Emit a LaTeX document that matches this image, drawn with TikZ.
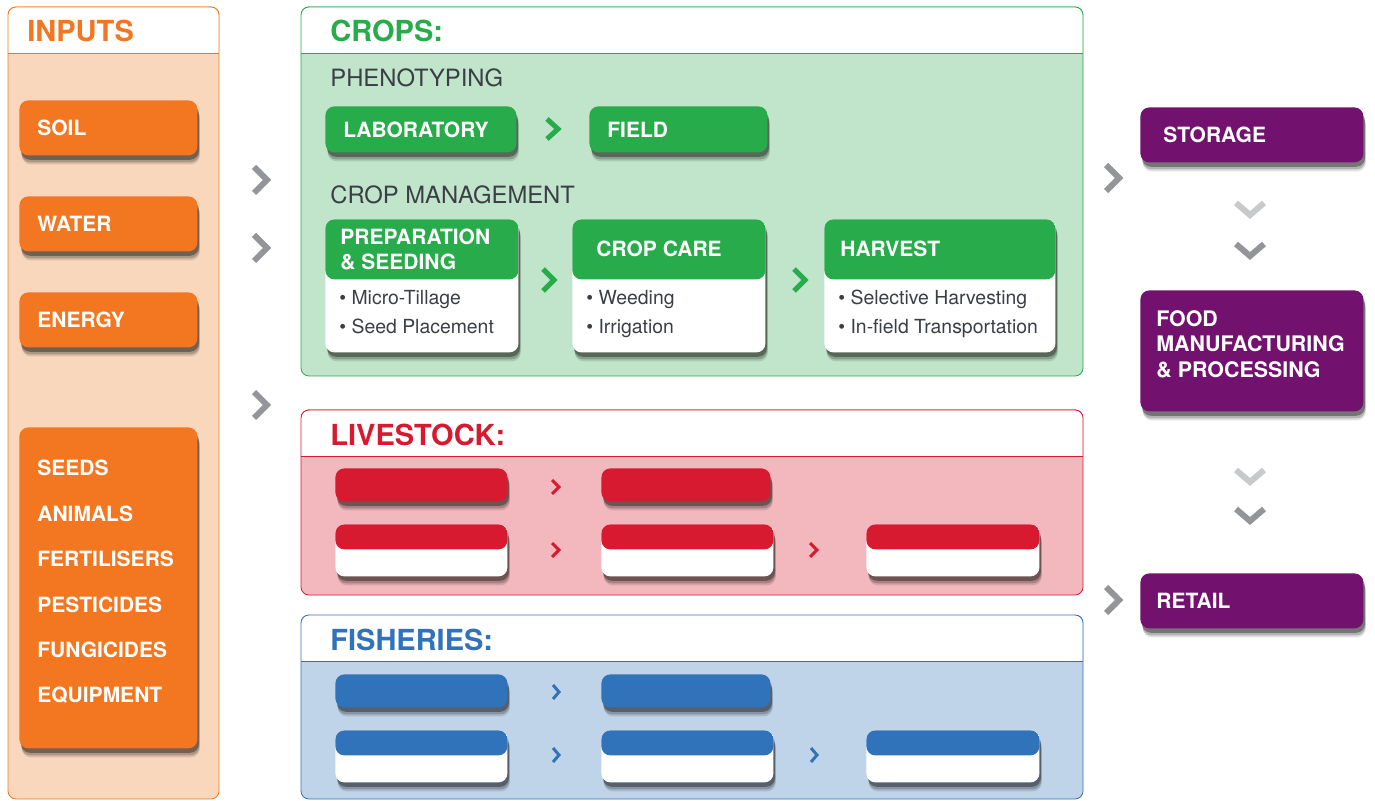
\documentclass[tikz,border=0pt]{standalone}
\usepackage{fontspec}
\setmainfont{TeX Gyre Heros}
\usetikzlibrary{shadows,positioning}

\definecolor{inorange}{HTML}{F37721}
\definecolor{inlight}{HTML}{F9D7BD}
\definecolor{cropgreen}{HTML}{28AB4A}
\definecolor{croplight}{HTML}{C1E5CA}
\definecolor{livered}{HTML}{D71A2F}
\definecolor{livelight}{HTML}{F2B8BE}
\definecolor{fishblue}{HTML}{3073BA}
\definecolor{fishlight}{HTML}{C0D4E9}
\definecolor{chainpurple}{HTML}{72126E}
\definecolor{chevgrey}{HTML}{939598}
\definecolor{chevlight}{HTML}{C8C9CB}
\definecolor{darktext}{HTML}{3A3F46}

% panel: x1 y1 x2 y2 header-line colour fill
\newcommand{\panel}[7]{%
  \draw[#6, fill=#7, rounded corners=4pt] (#1,#2) rectangle (#3,#4);
  \begin{scope}
    \clip (#1,#2) rectangle (#3,#5);
    \draw[#6, fill=white, rounded corners=4pt] (#1,#2) rectangle (#3,#4);
  \end{scope}
  \draw[#6] (#1,#5) -- (#3,#5);}
% chevrons: tip x, tip y, width, half height / half width, height
\newcommand{\chevr}[5]{\draw[#5] ({#1-#3},{#2-#4}) -- (#1,#2) -- ({#1-#3},{#2+#4});}
\newcommand{\chevd}[5]{\draw[#5] ({#1-#3},{#2-#4}) -- (#1,#2) -- ({#1+#3},{#2-#4});}

\tikzset{
  shadowed/.style={drop shadow={shadow xshift=1.2pt,shadow yshift=-4.5pt,opacity=.12,fill=black},
                   drop shadow={shadow xshift=1pt,shadow yshift=-3.5pt,opacity=.2,fill=black},
                   drop shadow={shadow xshift=.8pt,shadow yshift=-2.2pt,opacity=.35,fill=black}},
  sz/.style 2 args={minimum width=#1, minimum height=#2},
  tagbox/.style={rectangle, rounded corners=4.5pt, inner sep=0pt, anchor=north west, shadowed},
  card/.style 2 args={tagbox, fill=white,
    path picture={\fill[#1] (path picture bounding box.north west) rectangle ([yshift=-#2]path picture bounding box.north east);}},
  boxtxt/.style={inner sep=0pt, anchor=west, text=white, align=left,
    font=\bfseries\fontsize{10.5}{12.5}\selectfont},
  paneltitle/.style={inner sep=0pt, anchor=west, font=\bfseries\fontsize{14.5}{16}\selectfont},
  subhead/.style={inner sep=0pt, anchor=west, text=darktext, font=\fontsize{11.9}{14}\selectfont},
  bullets/.style={inner sep=0pt, anchor=north west, text=darktext, align=left,
    font=\fontsize{9.7}{14.5}\selectfont},
  greychev/.style={draw=chevgrey, line width=3pt},
  downdark/.style={draw=chevgrey, line width=3pt},
  downlight/.style={draw=chevlight, line width=3pt},
  greenchev/.style={draw=cropgreen, line width=2.5pt},
  smallchev/.style={draw=#1, line width=1.5pt}
}

\begin{document}
\begin{tikzpicture}[x=0.5pt, y=-0.5pt]
\useasboundingbox (0,0) rectangle (1375,801);

% inputs
\panel{8}{7}{219}{799}{53}{draw=inorange}{inlight}
\node[paneltitle, text=inorange] (intitle) at (27,31) {INPUTS};
\node[tagbox, fill=inorange, sz={89pt}{27.5pt}] (soil) at (19,100) {};
\node[boxtxt, right=9pt of soil.west] (soiltxt) {SOIL};
\node[tagbox, fill=inorange, sz={89pt}{27.5pt}] (water) at (19,196) {};
\node[boxtxt, right=9pt of water.west] (watertxt) {WATER};
\node[tagbox, fill=inorange, sz={89pt}{27.5pt}] (energy) at (19,292) {};
\node[boxtxt, right=9pt of energy.west] (energytxt) {ENERGY};
\node[tagbox, fill=inorange, sz={89pt}{160.5pt}] (other) at (19,427) {};
\node[boxtxt, anchor=north west, font=\bfseries\fontsize{10.5}{22.7}\selectfont] (othertxt)
  at ([xshift=9pt,yshift=-16.5pt]other.north west)
  {SEEDS\\ANIMALS\\FERTILISERS\\PESTICIDES\\FUNGICIDES\\EQUIPMENT};

\chevr{267}{180}{13}{13}{greychev}
\chevr{267}{248}{13}{13}{greychev}
\chevr{267}{405}{13}{13}{greychev}

% crops
\panel{301}{7}{1083}{376}{53}{draw=cropgreen}{croplight}
\node[paneltitle, text=cropgreen] (croptitle) at (330,31) {CROPS:};
\node[subhead] (pheno) at (330,78) {PHENOTYPING};
\node[tagbox, fill=cropgreen, sz={95.5pt}{23pt}] (lab) at (325,106) {};
\node[boxtxt, right=9pt of lab.west] (labtxt) {LABORATORY};
\node[tagbox, fill=cropgreen, sz={89pt}{23pt}] (field) at (589,106) {};
\node[boxtxt, right=9pt of field.west] (fieldtxt) {FIELD};
\chevr{558}{129}{11}{10}{greenchev}

\node[subhead] (manage) at (330,195) {CROP MANAGEMENT};
\node[card={cropgreen}{30pt}, sz={96.5pt}{66.5pt}] (prep) at (325,219) {};
\node[boxtxt] (preptxt) at ([xshift=7.5pt,yshift=-15pt]prep.north west) {PREPARATION\\\& SEEDING};
\node[bullets] (prepitems) at ([xshift=7pt,yshift=-35.5pt]prep.north west)
  {\textbullet\ Micro-Tillage\\\textbullet\ Seed Placement};
\node[card={cropgreen}{30pt}, sz={96.5pt}{66.5pt}] (care) at (572,219) {};
\node[boxtxt] (caretxt) at ([xshift=12pt,yshift=-15pt]care.north west) {CROP CARE};
\node[bullets] (careitems) at ([xshift=7pt,yshift=-35.5pt]care.north west)
  {\textbullet\ Weeding\\\textbullet\ Irrigation};
\node[card={cropgreen}{30pt}, sz={115.5pt}{66.5pt}] (harv) at (824,219) {};
\node[boxtxt] (harvtxt) at ([xshift=8pt,yshift=-15pt]harv.north west) {HARVEST};
\node[bullets] (harvitems) at ([xshift=7pt,yshift=-35.5pt]harv.north west)
  {\textbullet\ Selective Harvesting\\\textbullet\ In-field Transportation};
\chevr{554}{280}{11}{11}{greenchev}
\chevr{805}{280}{11}{11}{greenchev}

% livestock
\panel{301}{410}{1083}{595}{456}{draw=livered}{livelight}
\node[paneltitle, text=livered] (livetitle) at (330,435) {LIVESTOCK:};
\node[tagbox, fill=livered, sz={86pt}{16.5pt}] (lvone) at (335,468) {};
\node[tagbox, fill=livered, sz={84.5pt}{16.5pt}] (lvtwo) at (601,468) {};
\node[card={livered}{12.5pt}, sz={86pt}{26pt}] (lvthree) at (335,524) {};
\node[card={livered}{12.5pt}, sz={86pt}{26pt}] (lvfour) at (601,524) {};
\node[card={livered}{12.5pt}, sz={86.5pt}{26pt}] (lvfive) at (866,524) {};
\chevr{559}{487}{7}{7}{smallchev=livered}
\chevr{559}{550}{7}{7}{smallchev=livered}
\chevr{817}{550}{7}{7}{smallchev=livered}

% fisheries
\panel{301}{615}{1083}{799}{661}{draw=fishblue}{fishlight}
\node[paneltitle, text=fishblue] (fishtitle) at (330,640) {FISHERIES:};
\node[tagbox, fill=fishblue, sz={86pt}{16.5pt}] (fsone) at (335,674) {};
\node[tagbox, fill=fishblue, sz={84.5pt}{16.5pt}] (fstwo) at (601,674) {};
\node[card={fishblue}{12.5pt}, sz={86pt}{26pt}] (fsthree) at (335,730) {};
\node[card={fishblue}{12.5pt}, sz={86pt}{26pt}] (fsfour) at (601,730) {};
\node[card={fishblue}{12.5pt}, sz={86.5pt}{26pt}] (fsfive) at (866,730) {};
\chevr{559}{692}{6}{7}{smallchev=fishblue}
\chevr{559}{755}{6}{7}{smallchev=fishblue}
\chevr{817}{755}{6}{7}{smallchev=fishblue}

% chain
\chevr{1119}{178}{13}{13}{greychev}
\node[tagbox, fill=chainpurple, sz={111.5pt}{27.5pt}] (storage) at (1140,107) {};
\node[boxtxt, right=11.5pt of storage.west] (storagetxt) {STORAGE};
\chevd{1250}{215}{14}{12}{downlight}
\chevd{1250}{256}{14}{12}{downdark}
\node[tagbox, fill=chainpurple, sz={111.5pt}{60.5pt}] (food) at (1140,290) {};
\node[boxtxt, right=8pt of food.west, yshift=3.5pt, font=\bfseries\fontsize{10.7}{12.75}\selectfont] (foodtxt)
  {FOOD\\MANUFACTURING\\\& PROCESSING};
\chevd{1250}{482}{14}{12}{downlight}
\chevd{1250}{521}{14}{12}{downdark}
\chevr{1119}{600}{13}{13}{greychev}
\node[tagbox, fill=chainpurple, sz={111.5pt}{27.5pt}] (retail) at (1140,573) {};
\node[boxtxt, right=8pt of retail.west] (retailtxt) {RETAIL};
\end{tikzpicture}
\end{document}
